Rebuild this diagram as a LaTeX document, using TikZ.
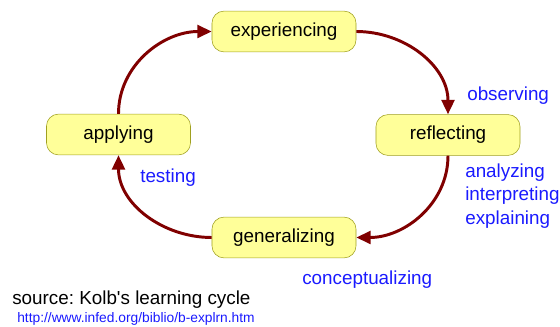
\documentclass[tikz,border=0pt]{standalone}
\usepackage{fontspec}
\setmainfont{Liberation Sans}[Ligatures=TeXOff]
\usepackage{tikz}
\usetikzlibrary{positioning, arrows.meta}
\definecolor{boxfill}{HTML}{FFFF99}
\definecolor{boxline}{HTML}{A0A020}
\definecolor{cyclered}{HTML}{800000}
\definecolor{labelblue}{HTML}{1A1AFF}
\tikzset{stage/.style = {rectangle,rounded corners=3mm,draw=boxline,fill=boxfill,
                         minimum width=3.6cm,minimum height=1.02cm,inner sep=0pt},
         phase/.style = {text=labelblue,inner sep=0pt,align=left},
         cycle/.style = {draw=cyclered,line width=2.1pt,
                         -{Triangle[length=3.6mm,width=3.2mm]}}}
\frenchspacing

\begin{document}
\begin{tikzpicture}[x=0.025cm,y=-0.025cm,font=\fontsize{13.4}{17}\selectfont]
                    \useasboundingbox (0,0) rectangle (560,327);
                    \node[stage] (exp) at (284,31.5) {\raisebox{-1.2pt}{experiencing}};
                    \node[stage] (refl) at (448,135) {\raisebox{-1.2pt}{reflecting}};
                    \node[stage] (appl) at (118.5,134.5) {\raisebox{-1.2pt}{applying}};
                    \node[stage] (gen) at (284,237.5) {\raisebox{-1.2pt}{generalizing}};
                    \draw[cycle] (exp.east) to [out=0,in=90] (refl.north);
                    \draw[cycle] (refl.south) to [out=-90,in=0] (gen.east);
                    \draw[cycle] (gen.west) to [out=180,in=-90] (appl.south);
                    \draw[cycle] (appl.north) to [out=90,in=180] (exp.west);
                    \node[phase,anchor=west] (obs) at (467,96) {observing};
                    \node[phase,anchor=north west] (ana) at (465,164)
                        {analyzing\\[-0.6pt]interpreting\\[-0.6pt]explaining};
                    \node[phase,anchor=west] (test) at (140,178) {testing};
                    \node[phase,anchor=west] (conc) at (302,280) {conceptualizing};
                    \node[inner sep=0pt,anchor=west] (src) at (12,300) {source: Kolb's learning cycle};
                    \node[phase,anchor=west,font=\fontsize{9.8}{12}\selectfont] (url) at (17,319)
                        {http://www.infed.org/biblio/b-explrn.htm};
                \end{tikzpicture}
\end{document}
